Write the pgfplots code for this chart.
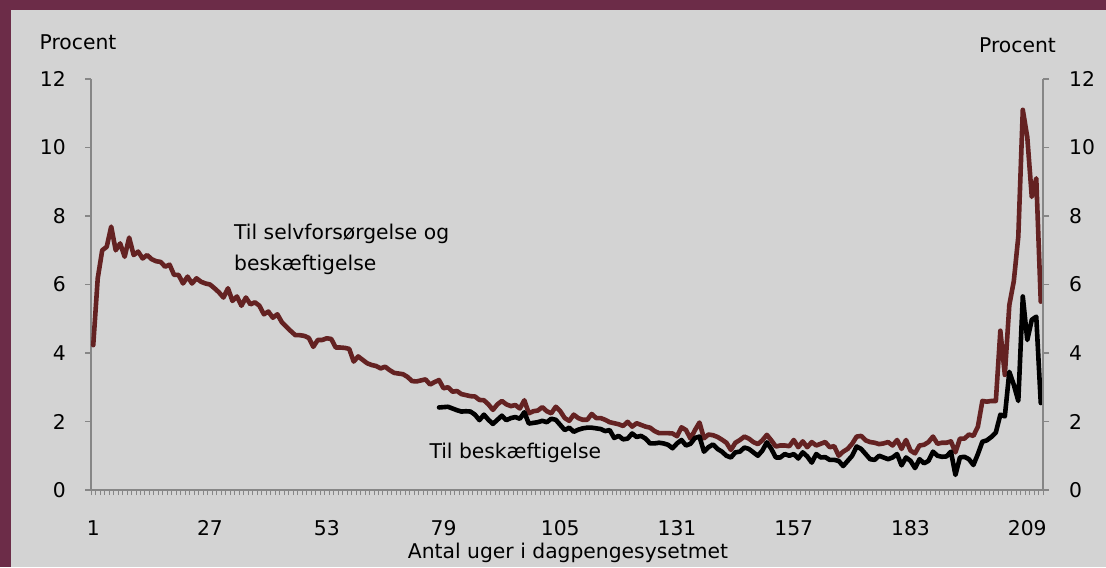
\documentclass[border=0pt]{standalone}
\usepackage{graphicx}
\usepackage{pgfplots}
\pgfplotsset{compat=1.18}
\usepackage{pgfplotstable}
\usepackage{fontspec}
\setmainfont{DejaVu Sans}
\definecolor{bggray}{RGB}{211,211,211}
\definecolor{framec}{RGB}{108,44,72}
\definecolor{redline}{RGB}{100,34,34}
\definecolor{axisgray}{RGB}{134,134,134}
\newcommand\fs{\fontsize{20.3}{24.4}\selectfont}

\pgfplotstableread{
w v
1 4.23
2 6.18
3 7.0
4 7.1
5 7.69
6 7.0
7 7.2
8 6.81
9 7.37
10 6.86
11 6.96
12 6.76
13 6.86
14 6.74
15 6.68
16 6.66
17 6.52
18 6.58
19 6.28
20 6.28
21 6.03
22 6.23
23 6.03
24 6.18
25 6.08
26 6.03
27 6.0
28 5.89
29 5.77
30 5.62
31 5.89
32 5.52
33 5.65
34 5.38
35 5.62
36 5.42
37 5.48
38 5.38
39 5.13
40 5.21
41 5.03
42 5.13
43 4.9
44 4.77
45 4.64
46 4.52
47 4.52
48 4.5
49 4.44
50 4.18
51 4.38
52 4.38
53 4.43
54 4.41
55 4.16
56 4.16
57 4.15
58 4.12
59 3.75
60 3.9
61 3.8
62 3.7
63 3.65
64 3.62
65 3.55
66 3.6
67 3.5
68 3.42
69 3.4
70 3.38
71 3.3
72 3.18
73 3.17
74 3.2
75 3.23
76 3.08
77 3.15
78 3.21
79 2.97
80 3.0
81 2.87
82 2.89
83 2.8
84 2.77
85 2.74
86 2.73
87 2.63
88 2.62
89 2.5
90 2.34
91 2.5
92 2.6
93 2.5
94 2.45
95 2.48
96 2.38
97 2.62
98 2.24
99 2.3
100 2.32
101 2.42
102 2.3
103 2.24
104 2.43
105 2.3
106 2.1
107 2.02
108 2.2
109 2.1
110 2.05
111 2.05
112 2.22
113 2.1
114 2.1
115 2.05
116 1.98
117 1.95
118 1.92
119 1.87
120 1.99
121 1.85
122 1.95
123 1.9
124 1.85
125 1.82
126 1.72
127 1.66
128 1.66
129 1.66
130 1.65
131 1.57
132 1.83
133 1.75
134 1.5
135 1.75
136 1.97
137 1.51
138 1.62
139 1.6
140 1.55
141 1.47
142 1.38
143 1.17
144 1.38
145 1.46
146 1.56
147 1.5
148 1.4
149 1.34
150 1.45
151 1.61
152 1.45
153 1.27
154 1.3
155 1.3
156 1.28
157 1.46
158 1.25
159 1.42
160 1.25
161 1.4
162 1.3
163 1.35
164 1.4
165 1.25
166 1.28
167 1.0
168 1.12
169 1.2
170 1.35
171 1.56
172 1.58
173 1.45
174 1.4
175 1.38
176 1.34
177 1.36
178 1.4
179 1.3
180 1.46
181 1.2
182 1.46
183 1.15
184 1.07
185 1.3
186 1.32
187 1.4
188 1.56
189 1.35
190 1.38
191 1.38
192 1.42
193 1.1
194 1.5
195 1.5
196 1.62
197 1.58
198 1.85
199 2.6
200 2.58
201 2.6
202 2.6
203 4.65
204 3.36
205 5.4
206 6.1
207 7.4
208 11.1
209 10.3
210 8.56
211 9.1
212 5.5
}\selvdata

\pgfplotstableread{
w v
78 2.41
79 2.42
80 2.43
81 2.38
82 2.33
83 2.29
84 2.3
85 2.29
86 2.2
87 2.04
88 2.2
89 2.05
90 1.93
91 2.05
92 2.17
93 2.04
94 2.1
95 2.13
96 2.08
97 2.27
98 1.94
99 1.96
100 1.98
101 2.02
102 1.98
103 2.08
104 2.05
105 1.9
106 1.75
107 1.82
108 1.7
109 1.76
110 1.8
111 1.82
112 1.82
113 1.8
114 1.78
115 1.72
116 1.75
117 1.52
118 1.58
119 1.48
120 1.5
121 1.65
122 1.55
123 1.58
124 1.5
125 1.36
126 1.36
127 1.38
128 1.36
129 1.32
130 1.22
131 1.36
132 1.46
133 1.3
134 1.35
135 1.52
136 1.56
137 1.12
138 1.25
139 1.33
140 1.2
141 1.12
142 1.0
143 0.95
144 1.1
145 1.12
146 1.24
147 1.2
148 1.1
149 1.0
150 1.15
151 1.39
152 1.2
153 0.95
154 0.95
155 1.05
156 1.0
157 1.05
158 0.92
159 1.1
160 0.98
161 0.8
162 1.05
163 0.95
164 0.96
165 0.88
166 0.88
167 0.85
168 0.7
169 0.85
170 1.0
171 1.27
172 1.2
173 1.05
174 0.9
175 0.88
176 1.0
177 0.95
178 0.9
179 0.95
180 1.05
181 0.72
182 0.95
183 0.85
184 0.64
185 0.9
186 0.78
187 0.85
188 1.12
189 1.0
190 0.97
191 0.98
192 1.12
193 0.44
194 0.95
195 0.97
196 0.9
197 0.73
198 1.05
199 1.41
200 1.45
201 1.55
202 1.68
203 2.2
204 2.15
205 3.45
206 3.07
207 2.6
208 5.65
209 4.38
210 4.97
211 5.06
212 2.54
}\beskdata

\begin{document}
\scalebox{1.05}{%
\begin{tikzpicture}[x=1pt,y=1pt]
\fill[bggray] (-91,-77) rectangle (1015,490);
\fill[framec] (-91,480) rectangle (1015,490);
\fill[framec] (-91,-77) rectangle (-80,490);

\begin{axis}[
  at={(0pt,0pt)}, anchor=south west,
  scale only axis, width=952pt, height=411pt,
  xmin=0.5, xmax=212.5, ymin=0, ymax=12,
  axis x line*=bottom, axis y line*=left,
  axis line style={draw=axisgray, line width=1.2pt, -},
  tick align=outside,
  xtick={1,27,53,79,105,131,157,183,209},
  minor xtick={0.5,1.5,...,212.5},
  major x tick style={draw=none},
  minor x tick style={draw=axisgray, line width=0.8pt},
  minor tick length=5pt,
  ytick={0,2,4,6,8,10,12},
  major y tick style={draw=axisgray, line width=1.2pt},
  major tick length=6pt,
  /pgf/number format/assume math mode=true,
  tick label style={font=\fs, text=black},
  yticklabel style={anchor=east, inner sep=0pt, xshift=-19pt},
  xticklabel style={anchor=base, inner sep=0pt, yshift=-39pt},
  clip=false,
]
\addplot[redline, line width=4.6pt, line join=round, line cap=round] table[x=w, y=v] {\selvdata};
\addplot[black, line width=4.6pt, line join=round, line cap=round] table[x=w, y=v] {\beskdata};
\end{axis}

\begin{axis}[
  at={(0pt,0pt)}, anchor=south west,
  scale only axis, width=952pt, height=411pt,
  xmin=0.5, xmax=212.5, ymin=0, ymax=12,
  axis x line=none, axis y line*=right,
  axis line style={draw=axisgray, line width=1.2pt, -},
  tick align=outside,
  xtick=\empty,
  ytick={0,2,4,6,8,10,12},
  major y tick style={draw=axisgray, line width=1.2pt},
  major tick length=6pt,
  /pgf/number format/assume math mode=true,
  tick label style={font=\fs, text=black},
  yticklabel style={anchor=west, inner sep=0pt, xshift=20pt},
]
\end{axis}

\node[anchor=base, font=\fs, inner sep=0pt] at (-13,440) {Procent};
\node[anchor=base, font=\fs, inner sep=0pt] at (926.5,437) {Procent};
\node[anchor=base west, font=\fs, inner sep=0pt] at (143,250.7) {Til selvforsørgelse og};
\node[anchor=base west, font=\fs, inner sep=0pt] at (143,219.3) {beskæftigelse};
\node[anchor=base west, font=\fs, inner sep=0pt] at (338.3,31.7) {Til beskæftigelse};
\node[anchor=base, font=\fs, inner sep=0pt] at (477,-68) {Antal uger i dagpengesysetmet};
\pgfresetboundingbox
\path[use as bounding box] (-91,-77) rectangle (1015,490);
\end{tikzpicture}}
\end{document}
